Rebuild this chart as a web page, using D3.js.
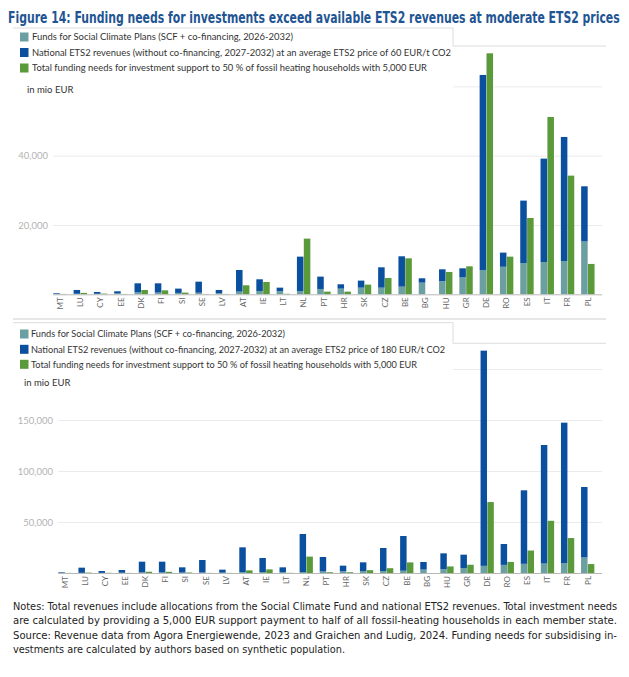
<!DOCTYPE html>
<html>
<head>
<meta charset="utf-8">
<script src="https://cdn.jsdelivr.net/npm/d3@7"></script>
<style>
  body { margin: 0; background: #fff; }
  svg { display: block; }
</style>
</head>
<body>
<svg id="chart" width="629" height="677"></svg>
<script>
var countries = ["MT","LU","CY","EE","DK","FI","SI","SE","LV","AT","IE","LT","NL","PT","HR","SK","CZ","BE","BG","HU","GR","DE","RO","ES","IT","FR","PL"];
// mio EUR
var scfFunds   = [100,150,150,250,550,500,400,450,350,770,960,900,960,1540,1640,1920,1920,2210,3370,3800,4900,7000,7950,9000,9300,9600,15250];
var etsRev60   = [200,1100,520,620,2620,2670,1240,3200,900,6250,3370,1020,9910,3560,1250,2030,5870,8760,1250,3415,2600,56300,4080,18040,29860,35810,15920];
var etsRev180  = [600,5080,1810,2690,10550,10600,5160,12300,2920,24390,13740,4660,37270,14150,5550,8540,22590,34060,7410,15480,13070,211000,20480,72050,116190,137780,69060];
var fundNeeds  = [100,400,200,100,1250,1150,480,100,100,2600,3560,150,16070,770,770,2790,4710,10390,0,6445,8080,69550,10870,22030,51180,34250,8760];
var ticks60  = [20000, 40000, 60000];
var ticks180 = [50000, 100000, 150000, 200000];

var legend60 = ["Funds for Social Climate Plans (SCF + co-financing, 2026-2032)",
  "National ETS2 revenues (without co-financing, 2027-2032) at an average ETS2 price of 60 EUR/t CO2",
  "Total funding needs for investment support to 50 % of fossil heating households with 5,000 EUR"];
var legend180 = ["Funds for Social Climate Plans (SCF + co-financing, 2026-2032)",
  "National ETS2 revenues (without co-financing, 2027-2032) at an average ETS2 price of 180 EUR/t CO2",
  "Total funding needs for investment support to 50 % of fossil heating households with 5,000 EUR"];

var notes = ["Notes: Total revenues include allocations from the Social Climate Fund and national ETS2 revenues. Total investment needs",
  "are calculated by providing a 5,000 EUR support payment to half of all fossil-heating households in each member state.",
  "Source: Revenue data from Agora Energiewende, 2023 and Graichen and Ludig, 2024. Funding needs for subsidising in-",
  "vestments are calculated by authors based on synthetic population."];

var colTeal = "#6c9fa1", colBlue = "#0b4f9f", colGreen = "#5a9a3b";
var svg = d3.select("#chart");
var font = "Lato, 'Open Sans', sans-serif";

// title: squeeze horizontally so the real box fits the page
var title = svg.append("text")
   .attr("x", 0).attr("y", 0)
   .attr("fill", "#1f5593")
   .style("font-family", "'Liberation Sans Narrow', 'DejaVu Sans Condensed', Lato, sans-serif")
   .style("font-size", "16.5px").style("font-weight", "bold")
   .text("Figure 14: Funding needs for investments exceed available ETS2 revenues at moderate ETS2 prices");
var tLen = title.node().getComputedTextLength();
title.attr("transform", "translate(8,23) scale(" + (612 / tLen) + ",1)");

function drawPanel(cfg) {
    var g = svg.append("g");
    var scX = d3.scaleBand().domain(countries).range(cfg.xr).paddingInner(0.34).paddingOuter(0.17);
    var scSub = d3.scaleBand().domain(["rev","need"]).range([0, scX.bandwidth()]).paddingInner(0.05);
    var scY = d3.scaleLinear().domain([0, cfg.ticks[1]]).range([cfg.base, cfg.y1]);
    var boxEnd = cfg.boxTop + cfg.boxH;

    // gridlines + tick labels
    var yAxis = g.append("g")
        .attr("transform", "translate(" + cfg.gx0 + ",0)")
        .call(d3.axisLeft(scY).tickValues(cfg.ticks).tickFormat(d3.format(","))
              .tickSize(-(602 - cfg.gx0)).tickPadding(5));
    yAxis.select(".domain").remove();
    yAxis.selectAll("line").attr("stroke", "#ebebeb");
    yAxis.selectAll("text").attr("fill", "#b3b3b3").style("font-family", font).style("font-size", "9.5px");
    // the legend box hides the top tick label
    yAxis.selectAll(".tick").filter(d => scY(d) < boxEnd).select("text").remove();

    // legend box (covers the top left of the plot)
    g.append("rect").attr("x", 0).attr("y", cfg.boxTop).attr("width", 453).attr("height", cfg.boxH).attr("fill", "#fff");
    g.append("path").attr("fill", "none").attr("stroke", "#dcdcdc")
     .attr("d", "M13," + cfg.boxTop + "H453V" + cfg.boxBot + "H606");

    var bars = g.append("g");
    var rows = bars.selectAll("g").data(countries).enter().append("g")
        .attr("transform", d => "translate(" + scX(d) + ",0)");
    rows.append("rect")
        .attr("x", scSub("rev")).attr("width", scSub.bandwidth())
        .attr("y", (d,i) => scY(scfFunds[i]))
        .attr("height", (d,i) => scY(0) - scY(scfFunds[i]))
        .attr("fill", colTeal);
    rows.append("rect")
        .attr("x", scSub("rev")).attr("width", scSub.bandwidth())
        .attr("y", (d,i) => scY(scfFunds[i] + cfg.rev[i]))
        .attr("height", (d,i) => scY(scfFunds[i]) - scY(scfFunds[i] + cfg.rev[i]))
        .attr("fill", colBlue);
    rows.append("rect")
        .attr("x", scSub("need")).attr("width", scSub.bandwidth())
        .attr("y", (d,i) => scY(fundNeeds[i]))
        .attr("height", (d,i) => scY(0) - scY(fundNeeds[i]))
        .attr("fill", colGreen);

    var xAxis = g.append("g")
        .attr("transform", "translate(0," + cfg.base + ")")
        .call(d3.axisBottom(scX).tickSize(0));
    xAxis.select(".domain").attr("stroke", "#b8b8b8").attr("d", "M" + cfg.gx0 + ",0.5H602");
    xAxis.selectAll("text")
        .attr("transform", "rotate(-90)")
        .attr("x", -3).attr("y", 0).attr("dy", "0.35em")
        .style("text-anchor", "end")
        .attr("fill", "#666")
        .style("font-family", font).style("font-size", "8px");

    var leg = g.append("g");
    var cols = [colTeal, colBlue, colGreen];
    cfg.legend.forEach(function(t, i) {
        leg.append("rect").attr("x", 20).attr("y", cfg.legY[i] - 4.5).attr("width", 8.5).attr("height", 9).attr("fill", cols[i]);
        leg.append("text").attr("x", cfg.legX).attr("y", cfg.legY[i]).attr("dy", "0.35em")
           .attr("fill", "#333").style("font-family", font).style("font-size", "9.5px")
           .attr("textLength", cfg.legW[i]).attr("lengthAdjust", "spacingAndGlyphs")
           .text(t);
    });
    leg.append("text").attr("x", cfg.unitX).attr("y", cfg.unitY).attr("dy", "0.35em")
       .attr("fill", "#333").style("font-family", font).style("font-size", "9.5px")
       .text("in mio EUR");
}

drawPanel({ rev: etsRev60, ticks: ticks60, base: 294.3, y1: 155.7,
            xr: [49.85, 598.0], gx0: 53,
            boxTop: 28, boxH: 72, boxBot: 46,
            legend: legend60, legY: [37, 52.5, 68], legX: 32, legW: [261, 419, 395],
            unitX: 27, unitY: 90 });

// separator between the two panels
svg.append("line").attr("x1", 13).attr("x2", 606).attr("y1", 319).attr("y2", 319).attr("stroke", "#cfcfcf");

drawPanel({ rev: etsRev180, ticks: ticks180, base: 573, y1: 471,
            xr: [54.95, 597.75], gx0: 58,
            boxTop: 322.7, boxH: 75, boxBot: 343.3,
            legend: legend180, legY: [334, 349.3, 364.3], legX: 31, legW: [254, 414, 386],
            unitX: 24, unitY: 383 });

var noteG = svg.append("g");
noteG.selectAll("text").data(notes).enter().append("text")
    .attr("x", 13).attr("y", (d,i) => 610 + i * 14.3)
    .attr("fill", "#222")
    .style("font-family", "'Liberation Sans Narrow', 'DejaVu Sans Condensed', 'Noto Sans', sans-serif")
    .style("font-size", "11px")
    .attr("textLength", (d,i) => i < 3 ? 604 : 332)
    .attr("lengthAdjust", "spacingAndGlyphs")
    .text(d => d);
</script>
</body>
</html>
